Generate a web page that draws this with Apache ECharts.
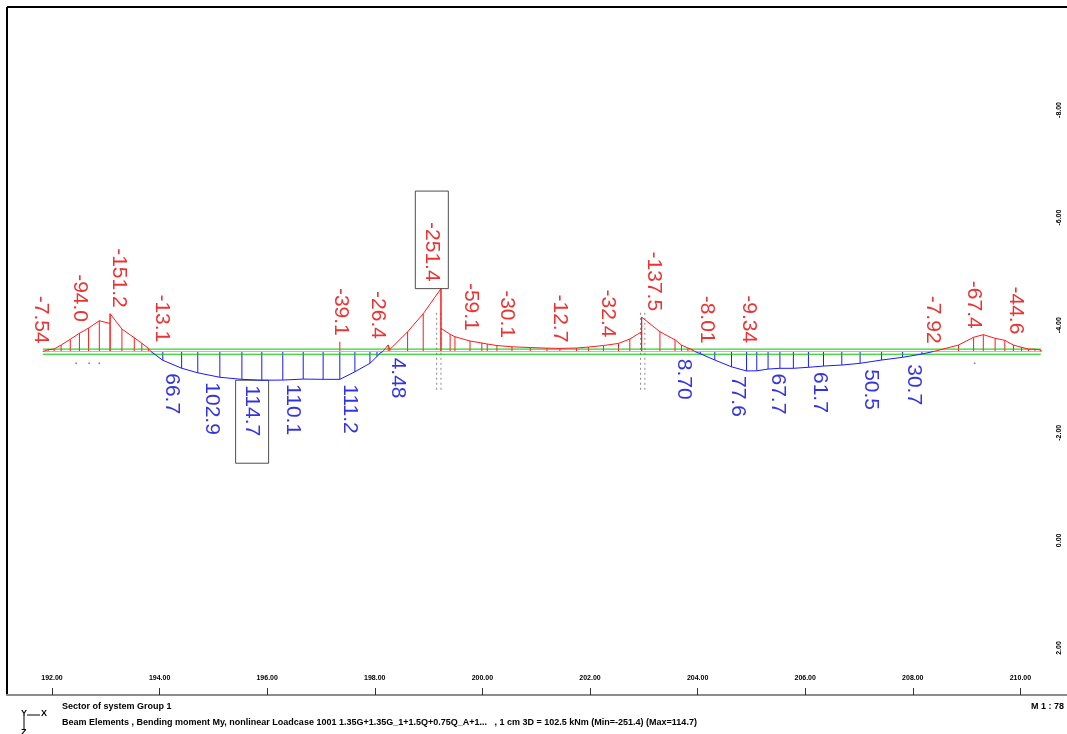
<!DOCTYPE html>
<html>
<head>
<meta charset="utf-8">
<title>Beam Elements, Bending moment My</title>
<script src="https://cdn.jsdelivr.net/npm/echarts@6/dist/echarts.min.js"></script>
<style>
  html, body { margin: 0; padding: 0; background: #fff; }
  #chart { width: 1067px; height: 734px; }
</style>
</head>
<body>
<div id="chart"></div>
<script>
// stations along the beam [m] and bending moment My [kNm] (negative = hogging, drawn upwards)
const stations = [
  191.83, 191.93, 192.04, 192.17, 192.34, 192.51, 192.68, 192.88, 193.08, 193.08, 193.30, 193.53, 193.67, 193.79, 193.84,
  194.06, 194.41, 194.71, 195.12, 195.53, 195.90, 196.29, 196.67, 197.04, 197.35, 197.63, 197.91, 198.04, 198.11, 198.15,
  198.25, 198.28, 198.61, 198.90, 199.23, 199.23, 199.40, 199.49, 199.77, 199.99, 200.09, 200.27, 200.55, 200.89, 201.20,
  201.44, 201.75, 201.97, 202.25, 202.53, 202.74, 202.96, 202.96, 203.30, 203.58, 203.70, 203.82, 203.90, 203.95,
  204.05, 204.32, 204.63, 204.91, 205.10, 205.31, 205.53, 205.78, 206.06, 206.34, 206.68, 207.02, 207.42, 207.81, 208.17, 208.38,
  208.44, 208.85, 209.13, 209.31, 209.53, 209.71, 209.87, 210.02, 210.15, 210.27, 210.38, 210.38
];
const moments = [
  0, -7.54, -10, -26, -49, -73, -94.0, -123, -112, -151.2, -90, -55, -33, -13.1, 0,
  35, 66.7, 85, 102.9, 111, 114.7, 114, 110.1, 111, 111.2, 81, 47, 20, 4.48, 0,
  -26.4, -8, -79, -151, -251.4, -93, -69, -59.1, -42, -34, -30.1, -24, -19, -16, -13.5,
  -12.7, -14, -18, -24, -32.4, -50, -79, -137.5, -79, -47, -26, -14, -8.01, 0,
  8.70, 34, 61, 77.6, 77, 70, 67, 67, 63, 58, 54, 47, 34, 23, 10, 0,
  -3, -26, -57, -67.4, -53, -44.6, -26, -17, -10, -9, -6, 0
];

// printed result values and where they are written
const labelStations = [
  191.80, 192.51, 193.25, 194.05, 194.23, 194.97, 195.72, 196.48, 197.37, 197.54,
  198.06, 198.43, 199.06, 199.79, 200.46, 201.44, 202.34, 203.19, 203.75, 204.18,
  204.75, 204.96, 205.49, 206.28, 207.22, 208.02, 208.38, 209.14, 209.92
];
const labelValues = [
  -7.54, -94.0, -151.2, -13.1, 66.7, 102.9, 114.7, 110.1, -39.1, 111.2,
  -26.4, 4.48, -251.4, -59.1, -30.1, -12.7, -32.4, -137.5, 8.70, -8.01,
  77.6, -9.34, 67.7, 61.7, 50.5, 30.7, -7.92, -67.4, -44.6
];

// single moment spike at a hanger node
const spikeStations = [197.35];
const spikeMoments = [-39.1];

const supportStations = [199.19, 202.98];
const nodeMarks = [192.45, 192.69, 192.88, 209.15];

const xTicks = [192, 194, 196, 198, 200, 202, 204, 206, 208, 210];
const zTicks = [-8, -6, -4, -2, 0, 2];

const beamZ = -3.51;          // system line of the beam
const beamStart = 191.83;
const beamEnd = 210.38;
const kNmPerMetre = 215;      // drawing scale of the diagram

const RED = '#ff1a1a';
const BLUE = '#1a1aff';
const LABEL_RED = '#e60000';
const LABEL_BLUE = '#0000d8';

function zOf(m) {
  return beamZ + m / kNmPerMetre;
}

function fmt(v) {
  return Math.abs(v) < 10 ? v.toFixed(2) : v.toFixed(1);
}

// curve split into hogging (red) and sagging (blue) parts
const redCurve = stations.map((s, i) => (moments[i] <= 0 ? [s, zOf(moments[i])] : [s, '-']));
const blueCurve = stations.map((s, i) => (moments[i] >= 0 ? [s, zOf(moments[i])] : [s, '-']));

const hatchData = stations
  .map((s, i) => [s, moments[i]])
  .concat(spikeStations.map((s, i) => [s, spikeMoments[i]]))
  .filter((d) => d[1] !== 0);

const minVal = Math.min(...labelValues);
const maxVal = Math.max(...labelValues);

const labelData = labelStations.map((s, i) => {
  const v = labelValues[i];
  const neg = v < 0;
  const label = {
    position: neg ? 'top' : 'bottom',
    align: neg ? 'right' : 'left',
    distance: neg ? 6 : 5,
    color: neg ? LABEL_RED : LABEL_BLUE,
  };
  if (v === minVal) {
    Object.assign(label, { borderColor: '#222', borderWidth: 1, padding: [6, 7, 6, 31], distance: 0 });
  }
  if (v === maxVal) {
    Object.assign(label, { borderColor: '#222', borderWidth: 1, padding: [6, 27, 6, 5], distance: 0 });
  }
  return { value: [s, zOf(v), v], label };
});

const chart = echarts.init(document.getElementById('chart'));

const textFont = 'bold 9px "Liberation Sans", Arial, sans-serif';

const option = {
  animation: false,
  backgroundColor: '#fff',
  grid: {
    left: 7,
    top: 7,
    right: 0,
    bottom: 39,
    show: false,
  },
  xAxis: {
    type: 'value',
    min: 191.164,
    max: 210.866,
    axisLine: { show: true, onZero: false, lineStyle: { color: '#8c8c8c', width: 2 } },
    axisTick: { show: true, inside: true, length: 7, customValues: xTicks, lineStyle: { color: '#333' } },
    axisLabel: {
      inside: true,
      customValues: xTicks,
      margin: 13,
      formatter: (v) => v.toFixed(2),
      fontFamily: 'Liberation Sans',
      fontSize: 7,
      fontWeight: 'bold',
      color: '#000',
    },
    splitLine: { show: false },
  },
  yAxis: {
    type: 'value',
    position: 'right',
    inverse: true,
    min: -9.914,
    max: 2.874,
    axisLine: { show: false, onZero: false },
    axisTick: { show: false },
    axisLabel: {
      inside: true,
      customValues: zTicks,
      rotate: 90,
      margin: 4,
      formatter: (v) => v.toFixed(2),
      fontFamily: 'Liberation Sans',
      fontSize: 7,
      fontWeight: 'bold',
      color: '#000',
    },
    splitLine: { show: false },
  },
  series: [
    // beam outline
    {
      type: 'line',
      symbol: 'none',
      silent: true,
      lineStyle: { color: '#00c800', width: 1 },
      data: [[beamStart, beamZ - 0.045], [beamEnd, beamZ - 0.045]],
    },
    {
      type: 'line',
      symbol: 'none',
      silent: true,
      lineStyle: { color: '#00c800', width: 1 },
      data: [[beamStart, beamZ + 0.05], [beamEnd, beamZ + 0.05]],
    },
    {
      type: 'line',
      symbol: 'none',
      silent: true,
      lineStyle: { color: '#ff9a9a', width: 1 },
      data: [[beamStart, beamZ], [beamEnd, beamZ]],
    },
    // support marks
    {
      type: 'custom',
      silent: true,
      data: supportStations.map((s) => [s, beamZ]),
      renderItem: (params, api) => {
        const s = api.value(0);
        const lines = [-0.04, 0.04].map((dx) => {
          const a = api.coord([s + dx, beamZ - 0.72]);
          const b = api.coord([s + dx, beamZ + 0.72]);
          return {
            type: 'line',
            shape: { x1: a[0], y1: a[1], x2: b[0], y2: b[1] },
            style: { stroke: '#8a8a8a', lineWidth: 1, lineDash: [2, 3] },
          };
        });
        return { type: 'group', children: lines };
      },
    },
    {
      type: 'scatter',
      silent: true,
      symbolSize: 2,
      itemStyle: { color: '#777' },
      data: nodeMarks.map((s) => [s, beamZ + 0.22]),
    },
    // hatching
    {
      type: 'custom',
      silent: true,
      data: hatchData,
      encode: { x: 0, y: -1 },
      renderItem: (params, api) => {
        const s = api.value(0);
        const m = api.value(1);
        const a = api.coord([s, beamZ]);
        const b = api.coord([s, zOf(m)]);
        return {
          type: 'line',
          shape: { x1: a[0], y1: a[1], x2: b[0], y2: b[1] },
          style: { stroke: m < 0 ? RED : BLUE, lineWidth: 1 },
        };
      },
    },
    // moment curve
    {
      type: 'line',
      symbol: 'none',
      silent: true,
      connectNulls: false,
      lineStyle: { color: RED, width: 1 },
      data: redCurve,
    },
    {
      type: 'line',
      symbol: 'none',
      silent: true,
      connectNulls: false,
      lineStyle: { color: BLUE, width: 1 },
      data: blueCurve,
    },
    // result values
    {
      type: 'scatter',
      symbolSize: 0,
      silent: true,
      data: labelData,
      label: {
        show: true,
        rotate: -90,
        verticalAlign: 'middle',
        fontFamily: 'Liberation Sans',
        fontSize: 21,
        formatter: (p) => fmt(p.value[2]),
      },
    },
  ],
  graphic: [
    // frame
    { type: 'line', shape: { x1: 7, y1: 7, x2: 1067, y2: 7 }, style: { stroke: '#000', lineWidth: 2 } },
    { type: 'line', shape: { x1: 7, y1: 7, x2: 7, y2: 695 }, style: { stroke: '#000', lineWidth: 2 } },
    { type: 'text', left: 62, top: 702, style: { text: 'Sector of system Group 1', font: textFont, fill: '#000' } },
    {
      type: 'text',
      left: 62,
      top: 718,
      style: {
        text: 'Beam Elements , Bending moment My, nonlinear Loadcase 1001 1.35G+1.35G_1+1.5Q+0.75Q_A+1...   , 1 cm 3D = 102.5 kNm (Min=-251.4) (Max=114.7)',
        font: textFont,
        fill: '#000',
      },
    },
    { type: 'text', left: 1031, top: 702, style: { text: 'M 1 : 78', font: textFont, fill: '#000' } },
    // coordinate system symbol
    { type: 'text', left: 21, top: 709, style: { text: 'Y', font: textFont, fill: '#000' } },
    { type: 'line', shape: { x1: 27, y1: 715, x2: 40, y2: 715 }, style: { stroke: '#000', lineWidth: 1 } },
    { type: 'text', left: 41, top: 709, style: { text: 'X', font: textFont, fill: '#000' } },
    { type: 'line', shape: { x1: 24, y1: 716, x2: 24, y2: 729 }, style: { stroke: '#000', lineWidth: 1 } },
    { type: 'text', left: 21, top: 728, style: { text: 'Z', font: textFont, fill: '#000' } },
  ],
};

chart.setOption(option);
window.addEventListener('resize', () => chart.resize());
</script>
</body>
</html>
